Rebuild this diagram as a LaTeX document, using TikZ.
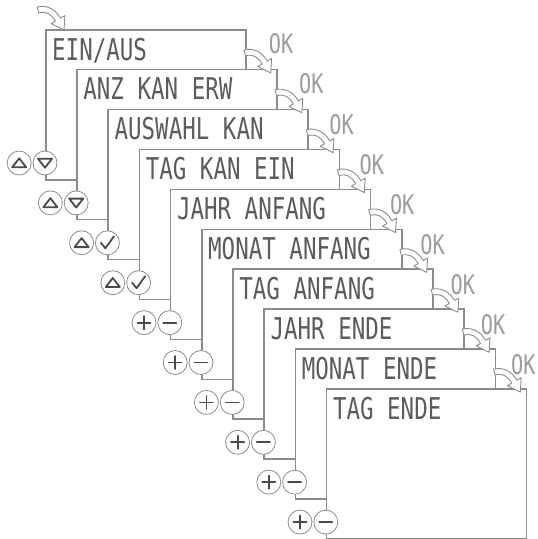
\documentclass[tikz,border=0pt]{standalone}
\usepackage{fontspec}
\newfontfamily\lcdfont{DejaVu Sans Mono}[FakeStretch=0.75]
\usetikzlibrary{calc,positioning}
\definecolor{frame}{HTML}{8C8C8C}
\definecolor{lcd}{HTML}{5C5C5C}
\definecolor{okgray}{HTML}{9C9C9C}
\definecolor{symb}{HTML}{4A4A4A}
\tikzset{
  panel/.style={draw=frame,line width=1.5pt,fill=white,minimum width=200pt,minimum height=150pt,anchor=north west,inner sep=0pt},
  lcdtext/.style={font=\lcdfont\fontsize{30}{30}\selectfont,text=lcd,anchor=base west,inner sep=0pt},
  oktext/.style={font=\lcdfont\fontsize{27}{27}\selectfont,text=okgray,inner sep=0pt},
  btn/.style={circle,draw=frame,line width=0.8pt,fill=white,minimum size=24pt,inner sep=0pt},
  sym/.style={symb,line width=1.8pt,line join=round,line cap=round},
  up/.pic={\draw[sym] (-7,4.3) -- (7,4.3) -- (0,-4.7) -- cycle;},
  down/.pic={\draw[sym] (-7,-4.3) -- (7,-4.3) -- (0,4.7) -- cycle;},
  tick/.pic={\draw[sym] (-6.5,0) -- (-2,5.5) -- (6.5,-6.5);},
  plus/.pic={\draw[sym] (-6.5,0) -- (6.5,0) (0,-6.5) -- (0,6.5);},
  minus/.pic={\draw[sym] (-6.5,0) -- (6.5,0);},
  % hollow bent arrow, tip at the pic origin
  okarrow/.pic={\draw[frame,line width=0.9pt,fill=white,line join=round]
    (-26.8,-22.9) .. controls (-17.1,-25.5) and (-8.4,-20.6) .. (-3.4,-11.9)
    -- (0.9,-14.4) -- (0,0) -- (-12.9,-6.4) -- (-8.6,-8.9)
    .. controls (-12.6,-15.8) and (-17.4,-19.2) .. (-25.2,-17.1) -- cycle;}
}
\begin{document}
\begin{tikzpicture}[x=1pt,y=-1pt]
  \useasboundingbox (0,0) rectangle (538,539);
  \foreach \lbl/\lb/\rb [count=\i from 0] in {{EIN/AUS}/up/down,ANZ KAN ERW/up/down,AUSWAHL KAN/up/tick,TAG KAN EIN/up/tick,JAHR ANFANG/plus/minus,MONAT ANFANG/plus/minus,TAG ANFANG/plus/minus,JAHR ENDE/plus/minus,MONAT ENDE/plus/minus,TAG ENDE/plus/minus}{
    \node[panel] (p\i) at (45+31.2*\i,29+39.9*\i) {};
    \node[lcdtext] (t\i) at ($(p\i.north west)+(7,31)$) {\lbl};
    \node[btn] (r\i) at ($(p\i.north west)+(0,134)$) {};
    \node[btn,left=1pt of r\i] (l\i) {};
    \pic at (l\i) {\lb};
    \pic at (r\i) {\rb};
  }
  \pic at ($(p0.north west)+(19,1)$) {okarrow};
  \foreach \i in {0,...,8}{
    \pgfmathtruncatemacro\j{\i+1}
    \pic at ($(p\j.north east)+(-7,4)$) {okarrow};
    \node[oktext] (ok\i) at (281+30.3*\i,44+40.1*\i) {OK};
  }
\end{tikzpicture}
\end{document}
